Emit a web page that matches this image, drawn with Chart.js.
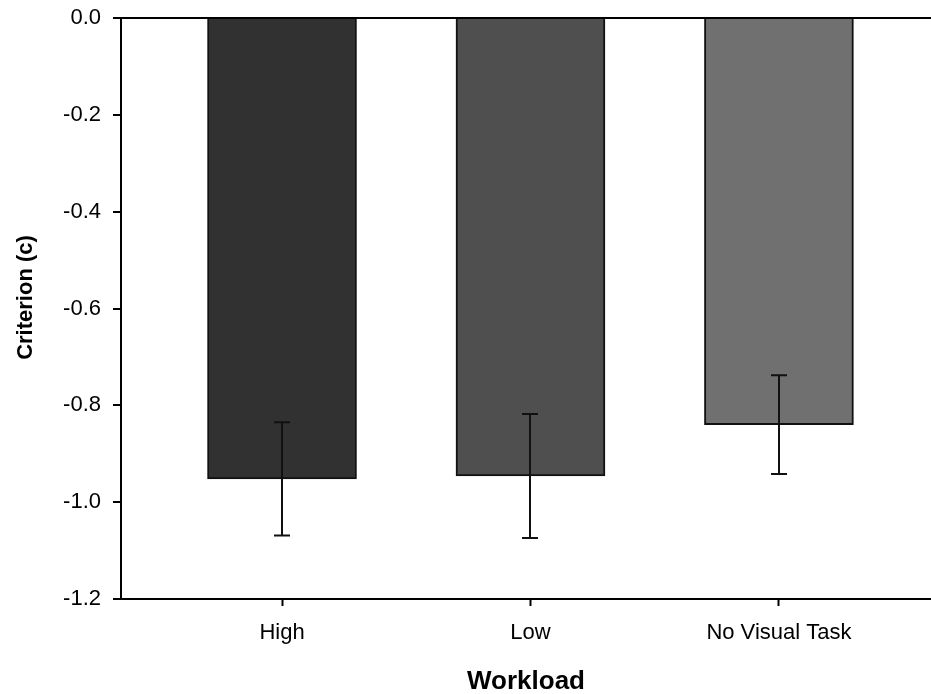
<!DOCTYPE html>
<html>
<head>
<meta charset="utf-8">
<script src="https://cdn.jsdelivr.net/npm/chart.js@4/dist/chart.umd.min.js"></script>
<style>
  html, body { margin: 0; padding: 0; background: #fff; }
  #wrap { width: 931px; height: 694px; }
</style>
</head>
<body>
<div id="wrap"><canvas id="c" width="931" height="694"></canvas></div>
<script>
// Workload conditions and mean criterion (c) with standard error
const categories = ['High', 'Low', 'No Visual Task'];
const criterion = [-0.952, -0.946, -0.840];
const stdError = [0.117, 0.128, 0.102];
const yTicks = [0.0, -0.2, -0.4, -0.6, -0.8, -1.0, -1.2];
const barColors = ['#313131', '#4f4f4f', '#707070'];
const yTitle = 'Criterion (c)';

const FONT = "'Liberation Sans', Arial, sans-serif";

// Vertical error bars with caps, positioned via the chart's scales
const errorBars = {
  id: 'errorBars',
  afterDatasetsDraw(chart) {
    const { ctx, scales: { x, y } } = chart;
    ctx.save();
    ctx.strokeStyle = '#111';
    ctx.lineWidth = 2;
    categories.forEach((_, i) => {
      const cx = Math.round(x.getPixelForValue(i));
      const top = y.getPixelForValue(criterion[i] + stdError[i]);
      const bot = y.getPixelForValue(criterion[i] - stdError[i]);
      const cap = 8;
      ctx.beginPath();
      ctx.moveTo(cx, top); ctx.lineTo(cx, bot);
      ctx.moveTo(cx - cap, top); ctx.lineTo(cx + cap, top);
      ctx.moveTo(cx - cap, bot); ctx.lineTo(cx + cap, bot);
      ctx.stroke();
    });
    ctx.restore();
  }
};

// Rotated y-axis title, centred slightly above the plot's middle
const yAxisTitle = {
  id: 'yAxisTitle',
  afterDraw(chart) {
    const { ctx, chartArea } = chart;
    ctx.save();
    ctx.translate(26, (chartArea.top + chartArea.bottom) / 2 - 11);
    ctx.rotate(-Math.PI / 2);
    ctx.font = "bold 22px " + FONT;
    ctx.fillStyle = '#000';
    ctx.textAlign = 'center';
    ctx.textBaseline = 'middle';
    ctx.fillText(yTitle, 0, 0);
    ctx.restore();
  }
};

new Chart(document.getElementById('c'), {
  type: 'bar',
  data: {
    datasets: [{
      data: categories.map((c, i) => ({ x: i, y: criterion[i] })),
      backgroundColor: barColors,
      borderColor: '#111',
      borderWidth: 2,
      borderSkipped: 'start',
      barThickness: 149
    }]
  },
  options: {
    responsive: false,
    animation: false,
    devicePixelRatio: 1,
    layout: { padding: { top: 18, right: 0, left: 0, bottom: 0 } },
    plugins: { legend: { display: false }, tooltip: { enabled: false } },
    scales: {
      x: {
        type: 'linear',
        offset: false,
        min: -0.648,
        max: 2.612,
        afterBuildTicks(scale) {
          scale.ticks = categories.map((_, i) => ({ value: i }));
        },
        afterFit(scale) {
          scale.height = 95;
          scale.paddingLeft = 0;
          scale.paddingRight = 0;
        },
        ticks: {
          callback: (v) => categories[v],
          color: '#000',
          font: { family: FONT, size: 22 },
          padding: 14,
          maxRotation: 0,
          autoSkip: false
        },
        grid: {
          offset: false,
          drawOnChartArea: false,
          drawTicks: true,
          tickLength: 7,
          tickColor: '#000',
          tickWidth: 2
        },
        border: { display: true, color: '#000', width: 2 },
        title: {
          display: true,
          text: 'Workload',
          color: '#000',
          font: { family: FONT, size: 26, weight: 'bold', lineHeight: 1 },
          padding: { top: 0, bottom: -1 }
        }
      },
      y: {
        min: -1.2,
        max: 0,
        afterBuildTicks(scale) {
          scale.ticks = yTicks.map(v => ({ value: v }));
        },
        afterFit(scale) {
          scale.width = 121;
          scale.paddingTop = 0;
          scale.paddingBottom = 0;
        },
        ticks: {
          callback: (v) => Number(v).toFixed(1),
          color: '#000',
          font: { family: FONT, size: 22 },
          padding: 12
        },
        grid: {
          drawOnChartArea: true,
          drawTicks: true,
          tickLength: 8,
          tickColor: '#000',
          tickWidth: 2,
          lineWidth: 2,
          color: (ctx) => (ctx.tick && Math.abs(ctx.tick.value) < 1e-9) ? '#000' : 'rgba(0,0,0,0)'
        },
        border: { display: true, color: '#000', width: 2 },
        title: { display: false }
      }
    }
  },
  plugins: [errorBars, yAxisTitle]
});
</script>
</body>
</html>
